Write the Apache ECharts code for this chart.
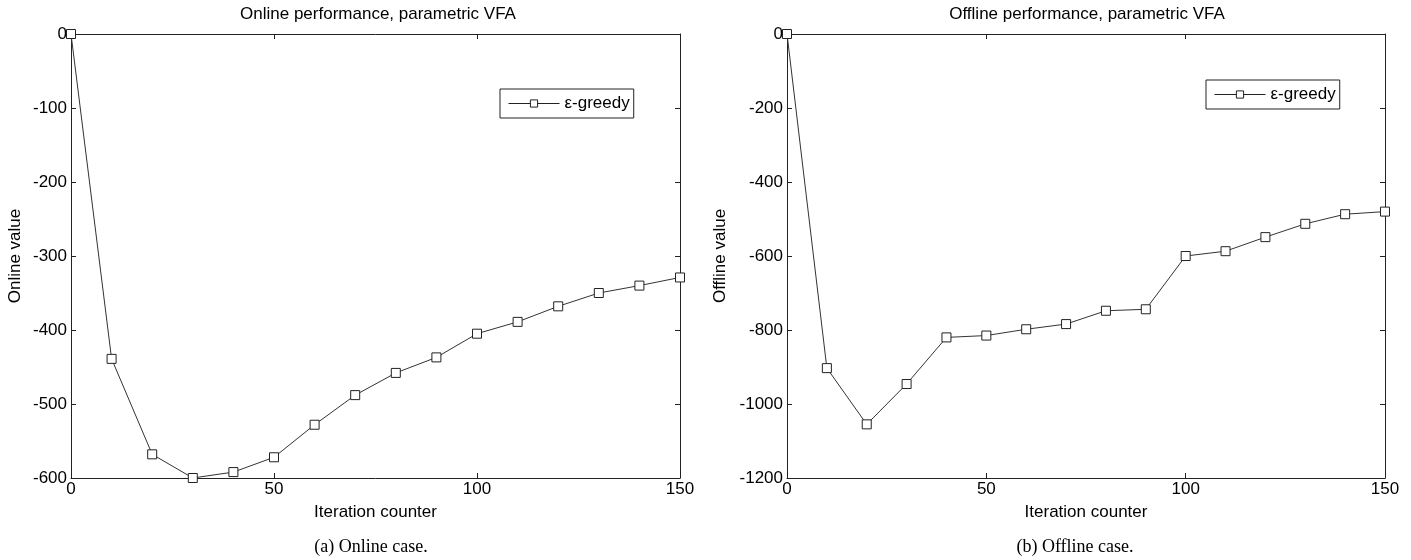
<!DOCTYPE html>
<html>
<head>
  <meta charset="utf-8">
  <script src="https://cdn.jsdelivr.net/npm/echarts@6/dist/echarts.min.js"></script>
  <style>
    body { margin: 0; background: #fff; }
    #chart { width: 1411px; height: 560px; }
  </style>
</head>
<body>
  <div id="chart"></div>
  <script>
    // iteration counter (x)
    var iterations = [0, 10, 20, 30, 40, 50, 60, 70, 80, 90, 100, 110, 120, 130, 140, 150];
    // online value, epsilon-greedy
    var onlineValues = [0, -439, -568, -600, -592, -572, -528, -488, -458, -437, -405, -389, -368, -350, -340, -329];
    // offline value, epsilon-greedy
    var offlineValues = [0, -903, -1055, -946, -820, -815, -798, -784, -748, -744, -600, -587, -549, -513, -487, -480];

    var chart = echarts.init(document.getElementById('chart'));
    var font = 'Liberation Sans, Arial, sans-serif';
    var serif = 'Liberation Serif, Times New Roman, serif';
    var fs = 17;

    function pairs(ys) {
      return iterations.map((x, i) => [x, ys[i]]);
    }

    // matlab-ish box axes: ticks inside, on all four sides
    function xAxes(gi) {
      var base = {
        type: 'value', gridIndex: gi, min: 0, max: 150, interval: 50,
        axisLine: { show: true, onZero: false, lineStyle: { color: '#222', width: 1 } },
        axisTick: { show: true, inside: true, length: 5, lineStyle: { color: '#222' } },
        splitLine: { show: false }
      };
      return [
        Object.assign({}, base, {
          position: 'bottom',
          name: 'Iteration counter', nameLocation: 'middle', nameGap: 26,
          nameTextStyle: { fontFamily: font, fontSize: fs, color: '#000' },
          axisLabel: { fontFamily: font, fontSize: fs, color: '#000', margin: 3 }
        }),
        Object.assign({}, base, { position: 'top', axisLabel: { show: false } })
      ];
    }

    function yAxes(gi, min, step, name, gap) {
      var base = {
        type: 'value', gridIndex: gi, min: min, max: 0, interval: step,
        axisLine: { show: true, onZero: false, lineStyle: { color: '#222', width: 1 } },
        axisTick: { show: true, inside: true, length: 5, lineStyle: { color: '#222' } },
        splitLine: { show: false }
      };
      return [
        Object.assign({}, base, {
          position: 'left',
          name: name, nameLocation: 'middle', nameGap: gap,
          nameTextStyle: { fontFamily: font, fontSize: fs, color: '#000' },
          axisLabel: { fontFamily: font, fontSize: fs, color: '#000', margin: 4,
            formatter: v => String(v) }
        }),
        Object.assign({}, base, { position: 'right', axisLabel: { show: false } })
      ];
    }

    function lineSeries(xi, yi, data) {
      return {
        name: 'ε-greedy', type: 'line', xAxisIndex: xi, yAxisIndex: yi,
        data: pairs(data),
        symbol: 'rect', symbolSize: 9, showAllSymbol: true,
        lineStyle: { color: '#333', width: 1 },
        itemStyle: { color: '#fff', borderColor: '#222', borderWidth: 1 },
        animation: false, z: 3
      };
    }

    var legendBase = {
      data: ['ε-greedy'], orient: 'vertical',
      itemWidth: 51, itemHeight: 9, itemGap: 0,
      padding: [6, 4, 6, 8],
      borderColor: '#222', borderWidth: 1, backgroundColor: '#fff',
      lineStyle: { width: 1, color: '#222' },
      itemStyle: { borderWidth: 1, borderColor: '#222', color: '#fff' },
      textStyle: { fontFamily: font, fontSize: fs, color: '#000' }
    };

    var option = {
      animation: false,
      title: [
        { text: 'Online performance, parametric VFA', left: 373, top: 1, textAlign: 'center',
          textStyle: { fontFamily: font, fontSize: fs, fontWeight: 'normal', color: '#000' } },
        { text: 'Offline performance, parametric VFA', left: 1082, top: 1, textAlign: 'center',
          textStyle: { fontFamily: font, fontSize: fs, fontWeight: 'normal', color: '#000' } },
        { text: '(a) Online case.', left: 366, top: 533, textAlign: 'center',
          textStyle: { fontFamily: serif, fontSize: 18, fontWeight: 'normal', color: '#000' } },
        { text: '(b) Offline case.', left: 1070, top: 533, textAlign: 'center',
          textStyle: { fontFamily: serif, fontSize: 18, fontWeight: 'normal', color: '#000' } }
      ],
      grid: [
        { left: 71, top: 34, width: 609, height: 444, show: true, borderWidth: 0 },
        { left: 787, top: 34, width: 598, height: 444, show: true, borderWidth: 0 }
      ],
      xAxis: xAxes(0).concat(xAxes(1)),
      yAxis: yAxes(0, -600, 100, 'Online value', 47).concat(yAxes(1, -1200, 200, 'Offline value', 58)),
      legend: [
        Object.assign({}, legendBase, { left: 500, top: 89 }),
        Object.assign({}, legendBase, { left: 1206, top: 80 })
      ],
      series: [
        lineSeries(0, 0, onlineValues),
        lineSeries(2, 2, offlineValues)
      ]
    };
    chart.setOption(option);
  </script>
</body>
</html>
